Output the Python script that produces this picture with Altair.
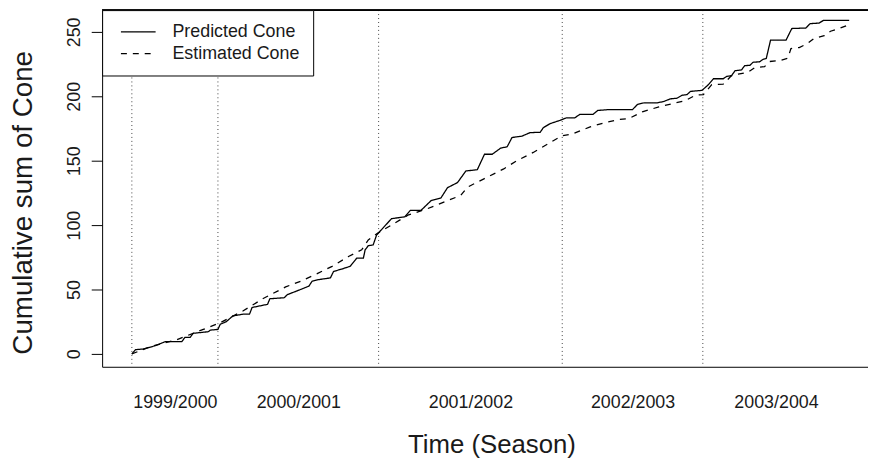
import altair as alt
import pandas as pd

# Season boundaries (time index) and labels
season_names = ["1999/2000", "2000/2001", "2001/2002", "2002/2003", "2003/2004"]
season_start = [0, 30, 86, 150, 199]
season_end = [30, 86, 150, 199, 250]

# Predicted Cone (cumulative)
pred_t = [0, 1.3, 4.1, 8.2, 11.6, 17.4, 18.5, 20.3, 21.4, 26.6, 27.4, 30.0, 30.8, 32.9, 35.2,
          38.7, 41.0, 41.9, 47.3, 48.1, 53.1, 54.2, 58.8, 61.7, 62.8, 65.2, 69.2, 70.3, 73.2,
          76.1, 78.4, 80.7, 81.3, 82.4, 84.1, 85.3, 90.5, 95.1, 97.1, 100.8, 104.3, 107.7,
          110.0, 113.5, 116.4, 120.4, 122.9, 125.6, 128.5, 130.8, 132.5, 135.9, 138.8, 142.3,
          143.4, 145.7, 149.2, 151.5, 154.4, 156.1, 160.7, 162.4, 166.4, 174.5, 176.2, 178.5,
          183.1, 185.4, 187.7, 190.0, 191.8, 193.5, 194.7, 198.7, 200.9, 202.7, 206.1, 207.3,
          209.0, 210.2, 212.5, 213.6, 215.4, 216.5, 218.8, 220.0, 221.1, 222.6, 228.0, 230.0,
          234.9, 236.4, 239.5, 241.0, 250.0]
pred_v = [0, 3.3, 3.8, 6.4, 9.5, 9.5, 12.8, 12.8, 16.0, 17.2, 18.5, 19.0, 23.0, 25.0, 29.5,
          30.8, 30.8, 36.0, 38.5, 42.8, 43.6, 46.0, 50.0, 52.6, 56.4, 57.7, 59.0, 64.0, 65.9,
          68.0, 74.4, 74.4, 80.8, 84.0, 84.6, 92.3, 105.0, 106.4, 111.5, 111.5, 119.0, 121.0,
          129.0, 133.0, 142.0, 143.0, 155.0, 155.0, 159.7, 160.8, 168.0, 169.0, 171.8, 172.0,
          175.6, 178.7, 181.3, 183.3, 183.3, 185.9, 185.9, 189.0, 189.7, 189.7, 193.6, 194.9,
          194.9, 196.0, 198.0, 198.5, 200.8, 201.3, 203.8, 204.6, 208.9, 213.6, 213.6, 215.4,
          216.0, 219.8, 220.5, 223.8, 224.0, 226.4, 226.8, 228.7, 229.3, 243.6, 243.6, 252.6,
          253.0, 256.4, 256.8, 258.9, 258.9]

# Estimated Cone (cumulative)
est_t = [0, 6.5, 15.6, 24.9, 30.6, 38.7, 45.6, 53.6, 58.8, 64.6, 69.8, 75.5, 80.1, 82.4, 85.6,
         90.5, 96.2, 103.1, 110.0, 114.6, 117.0, 122.7, 129.6, 134.2, 139.9, 145.7, 149.8,
         153.8, 159.5, 164.7, 169.9, 173.3, 177.9, 183.7, 189.5, 192.9, 196.4, 199.2, 202.1,
         206.1, 209.0, 211.3, 214.8, 217.1, 220.5, 222.3, 225.7, 228.6, 229.7, 232.6, 235.5,
         237.8, 241.3, 243.5, 246.4, 249.3]
est_v = [0, 5.6, 11.0, 19.0, 24.0, 33.3, 42.8, 52.0, 56.4, 62.3, 68.0, 75.6, 80.8, 88.5, 93.6,
         100.0, 107.7, 112.8, 119.0, 123.0, 129.5, 135.9, 143.6, 150.0, 156.4, 164.0, 169.2,
         171.0, 176.0, 179.5, 182.0, 182.8, 187.9, 191.8, 194.9, 196.7, 200.8, 201.3, 209.0,
         209.5, 216.0, 217.2, 218.7, 222.3, 223.0, 227.0, 227.7, 229.5, 237.0, 237.8, 241.0,
         245.0, 247.0, 250.5, 252.6, 255.0]

y_ticks = [0, 50, 100, 150, 200, 250]

FONT = "Liberation Sans"
TXT = "#1a1a1a"
W, H = 773, 360

lines = pd.concat([
    pd.DataFrame({"t": pred_t, "v": pred_v, "series": "Predicted Cone", "order": range(len(pred_t))}),
    pd.DataFrame({"t": est_t, "v": est_v, "series": "Estimated Cone", "order": range(len(est_t))}),
])
seasons = pd.DataFrame({"name": season_names, "start": season_start, "end": season_end})
seasons["mid"] = (seasons["start"] + seasons["end"]) / 2

mids = list(seasons["mid"])
label_expr = " : ".join(
    [f"abs(datum.value - {m}) < 0.01 ? '{n}'" for m, n in zip(mids, season_names)]
) + " : ''"

xscale = alt.Scale(domain=[-10.36, 256.56], nice=False, zero=False)
yscale = alt.Scale(domain=[-10, 266.9], nice=False, zero=False)

x_axis = alt.Axis(
    title="Time (Season)", values=mids, labelExpr=label_expr, ticks=False, tickSize=0,
    grid=False, domain=True, domainColor="black", domainWidth=1,
    labelFont=FONT, labelFontSize=18, labelColor=TXT, labelPadding=27,
    labelFlush=False, labelOverlap=False,
    titleFont=FONT, titleFontSize=26, titleFontWeight="normal", titleColor=TXT,
    titleX=393, titleY=66, titleAlign="center", titleBaseline="top",
)
y_axis = alt.Axis(
    title="Cumulative sum of Cone", values=y_ticks, grid=False,
    domain=True, domainColor="black", domainWidth=1,
    ticks=True, tickSize=11, tickColor="black", tickWidth=1,
    labelAngle=270, labelAlign="center", labelBaseline="alphabetic", labelPadding=12,
    labelFont=FONT, labelFontSize=18, labelColor=TXT,
    titleFont=FONT, titleFontSize=28, titleFontWeight="normal", titleColor=TXT,
    titleX=-71, titleY=194, titleAngle=270, titleAlign="center", titleBaseline="alphabetic",
)

season_rules = alt.Chart(seasons).mark_rule(
    color="#444", strokeDash=[1, 3], strokeWidth=1
).encode(x=alt.X("start:Q", scale=xscale, axis=x_axis))

line = alt.Chart(lines).mark_line(color="black", strokeWidth=1.3).encode(
    x=alt.X("t:Q", scale=xscale, axis=x_axis),
    y=alt.Y("v:Q", scale=yscale, axis=y_axis),
    order="order:Q",
    strokeDash=alt.StrokeDash(
        "series:N",
        scale=alt.Scale(domain=["Predicted Cone", "Estimated Cone"], range=[[1, 0], [6, 6]]),
        legend=alt.Legend(
            title=None, orient="top-left", offset=0, padding=13,
            strokeColor="black", fillColor="white", cornerRadius=0,
            symbolType="M-0.43,0L4.57,0", symbolSize=196, symbolStrokeWidth=1.3,
            symbolStrokeColor="black", symbolFillColor="transparent",
            labelFont=FONT, labelFontSize=18,
            labelColor=TXT, labelOffset=40, rowPadding=4,
        ),
    ),
)

top_border = alt.Chart(seasons).mark_rule(color="black", strokeWidth=1).encode(
    x=alt.value(0), x2=alt.value(W), y=alt.value(0)
)

chart = alt.layer(season_rules, line, top_border).properties(
    width=W, height=H,
    padding={"left": 95, "top": 0, "right": 0, "bottom": 96},
    autosize=alt.AutoSizeParams(type="none"),
).configure_view(stroke=None)

chart.save("out.html", embed_options={"renderer": "svg", "actions": False})
